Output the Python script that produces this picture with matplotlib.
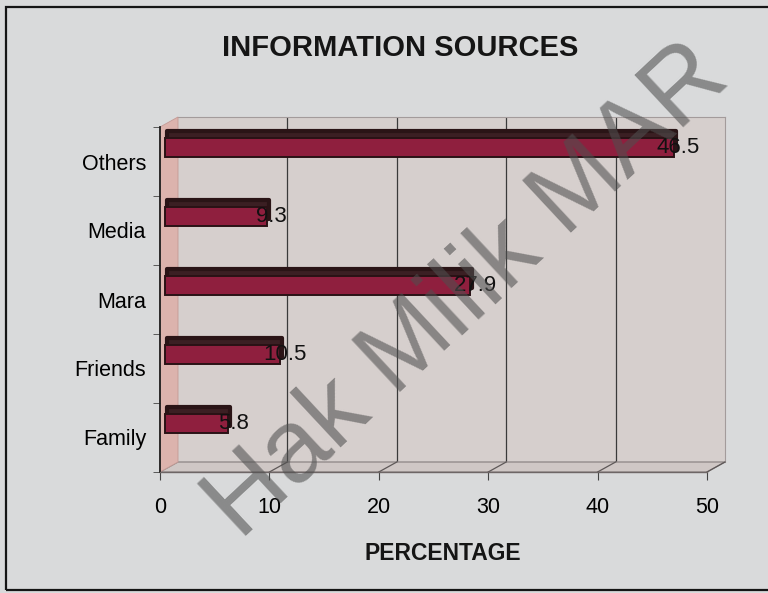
import matplotlib
matplotlib.use("Agg")
import matplotlib.pyplot as plt
from matplotlib.patches import Rectangle, Polygon
from matplotlib.lines import Line2D
from matplotlib.transforms import ScaledTranslation
import numpy as np

# данные
sources = ['Family', 'Friends', 'Mara', 'Media', 'Others']
percent = [5.8, 10.5, 27.9, 9.3, 46.5]
x_ticks = [0, 10, 20, 30, 40, 50]

plt.rcParams['font.family'] = ['Liberation Sans', 'DejaVu Sans']

W, H = 768, 593
fig = plt.figure(figsize=(W / 100, H / 100), dpi=100, facecolor='#d9dadb')

# передняя плоскость графика (px) и глубина "3D"
x0, x1, ytop, ybot = 160, 707, 127, 472
dx, dy = 18, 10


def fx(px):
    return px / W


def fy(py):
    return 1 - py / H


# рамка вокруг всей диаграммы
fig.patches.append(Rectangle((fx(6), fy(590)), 1.0, fy(7) - fy(590),
                             transform=fig.transFigure, fill=False,
                             edgecolor='#151515', lw=1.6, zorder=0.5))

# задняя стенка с сеткой
back = fig.add_axes([fx(x0 + dx), fy(ybot - dy), (x1 - x0) / W, (ybot - ytop) / H])
back.set_zorder(0)
back.set_facecolor('#d6cfcd')
back.set_xlim(0, 50)
back.set_ylim(0, 1)
back.set_xticks(x_ticks[1:-1])
back.set_yticks([])
back.tick_params(length=0, labelbottom=False)
back.grid(axis='x', color='#3a3a3a', lw=0.9)
for s in ['left', 'bottom']:
    back.spines[s].set_visible(False)
for s in ['top', 'right']:
    back.spines[s].set_color('#a39b9b')

# пол и левая стенка
floor = [(x0, ybot), (x1, ybot), (x1 + dx, ybot - dy), (x0 + dx, ybot - dy)]
wall = [(x0, ybot), (x0, ytop), (x0 + dx, ytop - dy), (x0 + dx, ybot - dy)]
fig.patches.append(Polygon([(fx(a), fy(b)) for a, b in floor], closed=True,
                           transform=fig.transFigure, facecolor='#cfc7c5',
                           edgecolor='#8c8484', lw=0.9, zorder=1))
fig.patches.append(Polygon([(fx(a), fy(b)) for a, b in wall], closed=True,
                           transform=fig.transFigure, facecolor='#dcb3ad',
                           edgecolor='#c49a95', lw=0.6, zorder=1))

# передние оси с полосами
ax = fig.add_axes([fx(x0), fy(ybot), (x1 - x0) / W, (ybot - ytop) / H])
ax.set_zorder(3)
ax.set_facecolor('none')
ax.set_xlim(0, 50)
ax.set_ylim(-0.5, len(sources) - 0.5)

y = np.arange(len(sources))
yb = y + 0.2

shadow = ax.transData + ScaledTranslation(0.07, 0.07, fig.dpi_scale_trans)
front = ax.transData + ScaledTranslation(0.05, 0, fig.dpi_scale_trans)
ax.barh(yb, percent, height=0.28, color='#3b1f23', edgecolor='#2a1416',
        lw=3.0, joinstyle='round', transform=shadow)
ax.barh(yb, percent, height=0.28, color='#8f1f3e', edgecolor='#2a1215',
        lw=1.4, transform=front)

for v, yy in zip(percent, yb):
    ax.annotate(f'{v:g}', (v, yy), xytext=(7, 0), textcoords='offset points',
                ha='center', va='center', fontsize=16, color='#111111')

ax.set_yticks(y)
ax.set_yticklabels(sources)
ax.set_yticks(np.arange(-0.5, len(sources)), minor=True)
ax.tick_params(axis='y', which='major', length=0, pad=10, labelsize=15.5)
ax.tick_params(axis='y', which='minor', length=5, color='#444444')
ax.set_xticks(x_ticks)
ax.tick_params(axis='x', length=6, color='#444444', pad=12, labelsize=15.5)

for s in ['top', 'right']:
    ax.spines[s].set_visible(False)
ax.spines['left'].set_color('#1e1e1e')
ax.spines['left'].set_linewidth(1.3)
ax.spines['bottom'].set_color('#6e6666')
ax.spines['bottom'].set_linewidth(1.0)

# косые линии на полу от делений к задней стенке
for v in x_ticks[1:]:
    px, py = ax.transData.transform((v, -0.5))
    a, b = fig.transFigure.inverted().transform((px, py))
    fig.lines.append(Line2D([a, a + dx / W], [b, b + dy / H], transform=fig.transFigure,
                            color='#5e5858', lw=0.9, zorder=1.5))

fig.text(fx(400), fy(48), 'INFORMATION SOURCES', ha='center', va='center',
         fontsize=21, fontweight='bold', color='#151515')
fig.text(fx(443), fy(553), 'PERCENTAGE', ha='center', va='center',
         fontsize=16.5, fontweight='bold', color='#151515')

# водяной знак
fig.text(fx(468), fy(292), 'Hak Milik MAR', ha='center', va='center',
         rotation=43, rotation_mode='anchor', fontsize=74, color='#4f4f4f',
         alpha=0.58, zorder=10)

fig.savefig('out.png', dpi=100, facecolor=fig.get_facecolor())
